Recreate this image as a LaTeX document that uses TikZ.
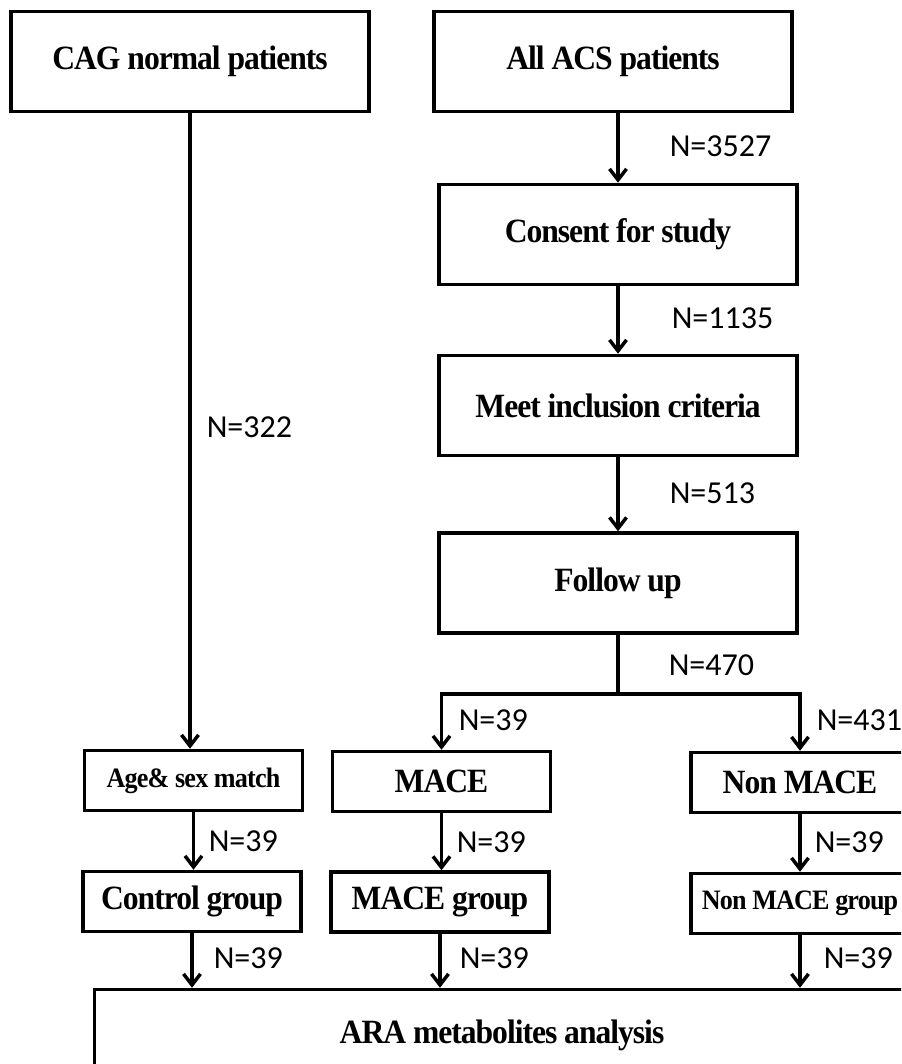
\documentclass[tikz,border=0pt]{standalone}
\usepackage{fontspec}
\setmainfont{Liberation Serif}
\newfontfamily\boxfont[FakeStretch=0.93,LetterSpace=-3]{Liberation Serif}
\newfontfamily\countfont{Carlito}
\usetikzlibrary{arrows.meta}

\begin{document}
\begin{tikzpicture}[x=1pt,y=-1pt,->,>={Straight Barb[length=11pt,width=17pt]},
  line width=3.5pt,
  box/.style={draw,rectangle,inner sep=0pt,
  font=\boxfont\fontsize{34}{38}\selectfont\bfseries},
  big box/.style={box,minimum width=358pt,minimum height=100pt},
  small box/.style={box,minimum width=218pt,minimum height=60pt},
  small text/.style={font=\boxfont\fontsize{28.1}{32}\selectfont\bfseries},
  count/.style={anchor=west,inner sep=0pt,
  font=\countfont\fontsize{32}{36}\selectfont}]

  \clip (0,0) rectangle (901,1064);

  % left column
  \node[big box] (cag) at (190,61.5) {CAG normal patients};
  \node[small box,small text] (age) at (193.5,780.5) {Age\& sex match};
  \node[small box] (ctrl) at (192,901.5) {Control group};

  % right column
  \node[big box] (acs) at (613,61.5) {All ACS patients};
  \node[big box] (consent) at (618,234.5) {Consent for study};
  \node[big box] (meet) at (618,405.5) {Meet inclusion criteria};
  \node[big box] (follow) at (618,583) {Follow up};
  \coordinate (split) at (618,694);
  \node[small box] (mace) at (441.5,781.5) {MACE};
  \node[small box] (nonmace) at (800,782.5) {Non MACE};
  \node[small box] (maceg) at (440,902) {MACE group};
  \node[small box,small text] (nonmaceg) at (800,903.5) {Non MACE group};

  \node[box,minimum width=815pt,minimum height=91pt] (ara) at (502,1035)
    {ARA metabolites analysis};

  \draw (cag.south) -- (cag.south |- age.north);
  \draw (age.south) -- (age.south |- ctrl.north);
  \draw (ctrl.south) -- (ctrl.south |- ara.north);

  \draw (consent.north |- acs.south) -- (consent.north);
  \draw (consent) -- (meet);
  \draw (meet) -- (follow);
  \draw[-] (follow.south) -- (split);
  \draw[<->] (mace.north) |- (split) -| (nonmace.north);
  \draw (mace.south) -- (mace.south |- maceg.north);
  \draw (nonmace.south) -- (nonmace.south |- nonmaceg.north);
  \draw (maceg.south) -- (maceg.south |- ara.north);
  \draw (nonmaceg.south) -- (nonmaceg.south |- ara.north);

  % counts
  \node[count] (n3527) at (668,146) {N=3527};
  \node[count] (n1135) at (670,318) {N=1135};
  \node[count] (n513) at (668,493) {N=513};
  \node[count] (n470) at (667,665) {N=470};
  \node[count] (n322) at (205,427) {N=322};
  \node[count] (nmace) at (457,720) {N=39};
  \node[count] (nnon) at (815,720) {N=431};
  \node[count] (nage) at (207,841) {N=39};
  \node[count] (nmaceg) at (455,842) {N=39};
  \node[count] (nnong) at (813,842) {N=39};
  \node[count] (nctrl) at (212,958) {N=39};
  \node[count] (nmacea) at (458,958) {N=39};
  \node[count] (nnona) at (822,958) {N=39};
\end{tikzpicture}
\end{document}
